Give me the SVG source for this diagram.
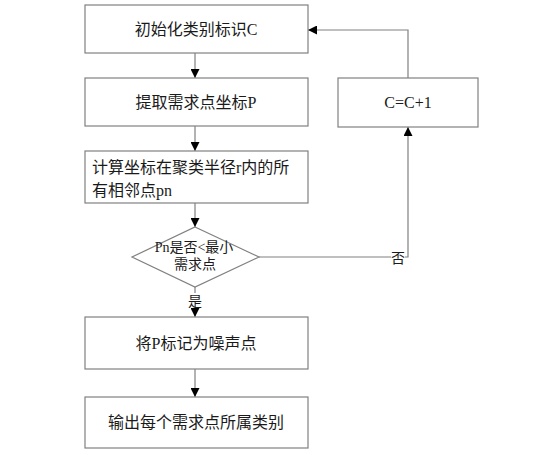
<svg xmlns="http://www.w3.org/2000/svg" width="540" height="455" viewBox="0 0 540 455">
<style>
.box{fill:#fff;stroke:#808080;stroke-width:1.2}
.ln{fill:none;stroke:#808080;stroke-width:1.2}
.bg{fill:#fff}
text{font-family:"Liberation Serif","Noto Sans CJK SC",serif;font-size:16px;fill:#1a1a1a}
.c{text-anchor:middle}
.s{font-size:14px}
</style>
<defs>
<marker id="ah" viewBox="0 0 10 10" refX="10" refY="5" markerWidth="9" markerHeight="9" markerUnits="userSpaceOnUse" orient="auto">
<path d="M0,0 L10,5 L0,10 z" fill="#000"/>
</marker>
</defs>
<rect width="540" height="455" fill="#fff"/>
<g id="connectors">
<line class="ln" x1="195" y1="53" x2="195" y2="78" marker-end="url(#ah)"/>
<line class="ln" x1="195" y1="126" x2="195" y2="151" marker-end="url(#ah)"/>
<line class="ln" x1="195" y1="203" x2="195" y2="227" marker-end="url(#ah)"/>
<line class="ln" x1="195" y1="287" x2="195" y2="317" marker-end="url(#ah)"/>
<line class="ln" x1="195" y1="369" x2="195" y2="397" marker-end="url(#ah)"/>
<polyline class="ln" points="259,257 408,257 408,127" marker-end="url(#ah)"/>
<polyline class="ln" points="408,78 408,30 308,30" marker-end="url(#ah)"/>
<rect class="bg" x="188" y="293" width="14" height="15"/>
<text x="195" y="306" class="c s">是</text>
<rect class="bg" x="391" y="250" width="14" height="15"/>
<text x="398" y="263" class="c s">否</text>
</g>
<g id="n1"><rect class="box" x="85" y="5" width="223" height="48"/><text x="196" y="35" class="c">初始化类别标识C</text></g>
<g id="n2"><rect class="box" x="85" y="78" width="223" height="48"/><text x="196" y="108" class="c">提取需求点坐标P</text></g>
<g id="n3"><rect class="box" x="85" y="151" width="223" height="52"/><text x="92" y="173">计算坐标在聚类半径r内的所</text><text x="92" y="196">有相邻点pn</text></g>
<g id="n4"><polygon class="box" points="195,227 259,257 195,287 132,257"/><text x="194" y="252" class="c s">Pn是否&lt;最小</text><text x="195" y="269" class="c s">需求点</text></g>
<g id="n5"><rect class="box" x="338" y="78" width="140" height="49"/><text x="408" y="108" class="c">C=C+1</text></g>
<g id="n6"><rect class="box" x="85" y="317" width="223" height="52"/><text x="196" y="349" class="c">将P标记为噪声点</text></g>
<g id="n7"><rect class="box" x="85" y="397" width="223" height="51"/><text x="196" y="428" class="c">输出每个需求点所属类别</text></g>
</svg>
